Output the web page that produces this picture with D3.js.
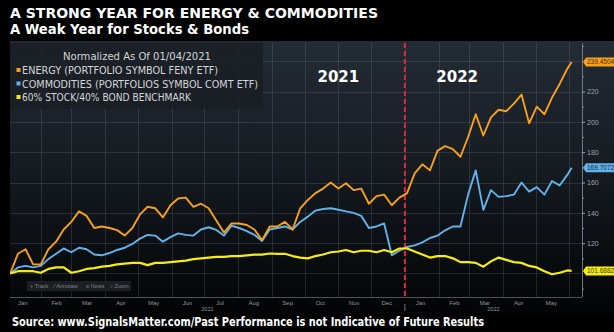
<!DOCTYPE html>
<html>
<head>
<meta charset="utf-8">
<script src="https://cdn.jsdelivr.net/npm/d3@7"></script>
<style>
  html, body { margin: 0; padding: 0; background: #000; }
  svg { display: block; }
</style>
</head>
<body>
<div id="chart"></div>
<script>
// Weekly closes, normalized to 100 on 01/04/2021
const dates = [
  "2021-01-04","2021-01-11","2021-01-18","2021-01-25","2021-02-01","2021-02-08","2021-02-15","2021-02-22",
  "2021-03-01","2021-03-08","2021-03-15","2021-03-22","2021-03-29","2021-04-05","2021-04-12","2021-04-19",
  "2021-04-26","2021-05-03","2021-05-10","2021-05-17","2021-05-24","2021-05-31","2021-06-07","2021-06-14",
  "2021-06-21","2021-06-28","2021-07-05","2021-07-12","2021-07-19","2021-07-26","2021-08-02","2021-08-09",
  "2021-08-16","2021-08-23","2021-08-30","2021-09-06","2021-09-13","2021-09-20","2021-09-27","2021-10-04",
  "2021-10-11","2021-10-18","2021-10-25","2021-11-01","2021-11-08","2021-11-15","2021-11-22","2021-11-29",
  "2021-12-06","2021-12-13","2021-12-20","2021-12-27","2022-01-03","2022-01-10","2022-01-17","2022-01-24",
  "2022-01-31","2022-02-07","2022-02-14","2022-02-21","2022-02-28","2022-03-07","2022-03-14","2022-03-21",
  "2022-03-28","2022-04-04","2022-04-11","2022-04-18","2022-04-25","2022-05-02","2022-05-09","2022-05-16",
  "2022-05-23","2022-05-30","2022-06-03"
];

const energy = [
  100, 113, 116, 106, 106, 116, 121, 129, 134, 141, 138, 130, 131, 130, 128.6, 125,
  130, 139, 144, 143, 137, 145, 149.5, 150, 144, 146, 143, 135, 127, 133, 133, 132,
  129, 122, 131, 131, 134, 129, 143, 148.5, 153, 156, 160, 156, 159.5, 155,
  156, 146, 151, 152, 145, 150,
  153, 166, 172, 168, 181, 184, 182, 177, 190, 205, 191, 203, 208, 207, 212, 218,
  199, 210, 205, 216, 225, 235, 239.45
];

const commodities = [
  100, 104, 105, 104, 105, 109.5, 113, 116.5, 114, 117, 116, 112.5, 112, 113.5, 115.5, 117,
  119.5, 123, 125.4, 125, 121, 124, 126.5, 125.5, 125, 129, 130.5, 128.7, 125, 131.5, 130, 128,
  125.5, 121.5, 129, 130, 131, 129, 134, 137.5, 141.5, 142.5, 143, 142, 141, 140,
  138, 130, 131, 133, 112, 115,
  117.5, 118.5, 120.5, 123.4, 125, 128.5, 131, 131, 152, 168, 142, 155, 150.5, 151, 152, 160,
  154, 157, 152, 161, 158, 165, 169.7
];

const benchmark = [
  100, 101.5, 101.5, 101.5, 100.5, 103, 104, 104, 100.5, 101.5, 103, 103.5, 104.5, 105, 106, 106.5,
  107, 107, 105.5, 107, 107, 107.5, 108, 108.5, 109.5, 110, 110.5, 111, 111, 111.5, 111.5, 112,
  112.5, 112.5, 113.2, 113, 113, 111.5, 110.5, 110, 111.5, 112.5, 114, 114.5, 115.5, 114,
  115, 115, 114, 115.5, 114, 116.5,
  116.5, 114.5, 112.5, 110.5, 111.5, 111.5, 110, 107.5, 107.5, 107, 104.5, 108, 110.5, 109, 107.5, 107,
  105, 104, 101.5, 99.5, 100.5, 102, 101.69
];

const seriesNames = [
  "ENERGY (PORTFOLIO SYMBOL FENY ETF)",
  "COMMODITIES (PORTFOLIOS SYMBOL COMT ETF)",
  "60% STOCK/40% BOND BENCHMARK"
];
const seriesColors = ["#f7a01c", "#62b2ec", "#f6ee10"];
const lastLabels = ["239.4504", "169.7072", "101.6882"];
const yTicks = [100, 120, 140, 160, 180, 200, 220, 240];
const yLabelTicks = [120, 140, 160, 180, 200, 220]; // 100 and 240 sit under the value tags
const yMinorTicks = [90, 110, 130, 150, 170, 190, 210, 230, 250];
const yearLabels = ["2021", "2022"];

const W = 614, H = 332;
const plot = { left: 10, right: 582, top: 43, bottom: 297 };

const parse = d3.timeParse("%Y-%m-%d");
const dateObjs = dates.map(parse);

const svg = d3.select("#chart").append("svg")
  .attr("width", W)
  .attr("height", H);

// Background gradient for the chart panel
const defs = svg.append("defs");
const grad = defs.append("linearGradient")
  .attr("id", "panelGrad")
  .attr("x1", 0).attr("y1", 0).attr("x2", 0).attr("y2", 1);
grad.append("stop").attr("offset", "0%").attr("stop-color", "#232b34");
grad.append("stop").attr("offset", "45%").attr("stop-color", "#161c22");
grad.append("stop").attr("offset", "100%").attr("stop-color", "#030405");

defs.append("clipPath").attr("id", "plotClip")
  .append("rect")
  .attr("x", plot.left).attr("y", plot.top)
  .attr("width", plot.right - plot.left)
  .attr("height", plot.bottom - plot.top);

svg.append("rect").attr("width", W).attr("height", H).attr("fill", "#000");
svg.append("rect")
  .attr("x", plot.left).attr("y", 41)
  .attr("width", W - plot.left).attr("height", 272)
  .attr("fill", "url(#panelGrad)");

// Titles
svg.append("text")
  .attr("x", 10).attr("y", 17.5)
  .attr("fill", "#fff")
  .attr("font-family", "DejaVu Sans, sans-serif")
  .attr("font-weight", "bold")
  .attr("font-size", "14px")
  .attr("textLength", 368).attr("lengthAdjust", "spacingAndGlyphs")
  .text("A STRONG YEAR FOR ENERGY & COMMODITIES");

svg.append("text")
  .attr("x", 10).attr("y", 33.5)
  .attr("fill", "#fff")
  .attr("font-family", "DejaVu Sans, sans-serif")
  .attr("font-weight", "bold")
  .attr("font-size", "13.5px")
  .attr("textLength", 239).attr("lengthAdjust", "spacingAndGlyphs")
  .text("A Weak Year for Stocks & Bonds");

// Scales
const x = d3.scaleTime()
  .domain([new Date(2021, 0, 3, 18), new Date(2022, 5, 12, 12)])
  .range([plot.left, plot.right]);

const y = d3.scaleLinear()
  .domain([84.5, 252])
  .range([plot.bottom, plot.top]);

// Grid lines
const monthStarts = d3.timeMonth.range(new Date(2021, 1, 1), new Date(2022, 5, 2));
svg.append("g")
  .selectAll("line")
  .data(monthStarts)
  .join("line")
  .attr("x1", d => Math.round(x(d)) + 0.5)
  .attr("x2", d => Math.round(x(d)) + 0.5)
  .attr("y1", plot.top)
  .attr("y2", plot.bottom)
  .attr("stroke", "#8a98a8")
  .attr("stroke-opacity", 0.2);

svg.append("g")
  .selectAll("line")
  .data(yTicks)
  .join("line")
  .attr("x1", plot.left)
  .attr("x2", plot.right)
  .attr("y1", d => Math.round(y(d)) + 0.5)
  .attr("y2", d => Math.round(y(d)) + 0.5)
  .attr("stroke", "#8a98a8")
  .attr("stroke-opacity", 0.2);

// Right axis
const yAxis = svg.append("g")
  .attr("transform", `translate(${plot.right},0)`)
  .call(d3.axisRight(y).tickValues(yLabelTicks).tickSize(3).tickPadding(2).tickFormat(d3.format("d")));
yAxis.select(".domain").attr("stroke", "#6d7884").attr("d", `M0.5,${plot.top}V${plot.bottom}`);
yAxis.selectAll(".tick line").attr("stroke", "#9aa3ad");
yAxis.selectAll(".tick text")
  .attr("fill", "#9aa3ad")
  .attr("font-family", "Liberation Sans, Arial, sans-serif")
  .attr("font-size", "7px");

svg.append("g")
  .attr("transform", `translate(${plot.right},0)`)
  .call(d3.axisRight(y).tickValues(yMinorTicks).tickSize(2).tickFormat(""))
  .call(g => g.select(".domain").remove())
  .selectAll(".tick line").attr("stroke", "#7d8893");

// Bottom axis: month names centered in each month
const monthMids = d3.timeMonth.range(new Date(2021, 0, 1), new Date(2022, 5, 1))
  .map(d => new Date(d.getFullYear(), d.getMonth(), 15));
const xAxis = svg.append("g")
  .attr("transform", `translate(0,${plot.bottom})`)
  .call(d3.axisBottom(x).tickValues(monthMids).tickSize(0).tickPadding(4).tickFormat(d3.timeFormat("%b")));
xAxis.select(".domain").attr("stroke", "#4a525b").attr("d", `M${plot.left},0.5H${plot.right}`);
xAxis.selectAll(".tick text")
  .attr("fill", "#8e959c")
  .attr("font-family", "Liberation Sans, Arial, sans-serif")
  .attr("font-size", "6px");

// Year labels under the months
const yearMid = [
  x(new Date((x.domain()[0].getTime() + new Date(2022, 0, 1).getTime()) / 2)),
  (x(new Date(2022, 0, 1)) + plot.right) / 2
];
svg.append("g")
  .selectAll("text")
  .data(yearLabels)
  .join("text")
  .attr("x", (d, i) => yearMid[i])
  .attr("y", 311)
  .attr("text-anchor", "middle")
  .attr("fill", "#8e959c")
  .attr("font-family", "Liberation Sans, Arial, sans-serif")
  .attr("font-size", "5.5px")
  .text(d => d);
svg.append("line")
  .attr("x1", x(new Date(2022, 0, 1))).attr("x2", x(new Date(2022, 0, 1)))
  .attr("y1", 304).attr("y2", 311)
  .attr("stroke", "#6f767d");

// Big year labels inside the plot
svg.append("g")
  .selectAll("text")
  .data([
    { t: "2021", d: new Date(2021, 10, 1) },
    { t: "2022", d: new Date(2022, 1, 18) }
  ])
  .join("text")
  .attr("x", d => x(d.d))
  .attr("y", 82)
  .attr("text-anchor", "middle")
  .attr("fill", "#fff")
  .attr("font-family", "DejaVu Sans, sans-serif")
  .attr("font-weight", "bold")
  .attr("font-size", "15px")
  .text(d => d.t);

// Year divider
svg.append("line")
  .attr("x1", x(new Date(2022, 0, 1))).attr("x2", x(new Date(2022, 0, 1)))
  .attr("y1", plot.top).attr("y2", plot.bottom)
  .attr("stroke", "#e0253c")
  .attr("stroke-width", 2)
  .attr("stroke-dasharray", "5,3");

// Series lines
const allSeries = [energy, commodities, benchmark];
const line = d3.line()
  .x(d => x(d.date))
  .y(d => y(d.v));

const linesG = svg.append("g").attr("clip-path", "url(#plotClip)");
[1, 0, 2].forEach(i => {
  const pts = allSeries[i].map((v, j) => ({ date: dateObjs[j], v: v }));
  linesG.append("path")
    .datum(pts)
    .attr("fill", "none")
    .attr("stroke", seriesColors[i])
    .attr("stroke-width", i === 2 ? 2.2 : 1.9)
    .attr("stroke-linejoin", "round")
    .attr("d", line);
});

// Last value tags on the right axis
const tagTextColors = ["#4a2a00", "#0d2a40", "#3a3a00"];
allSeries.forEach((s, i) => {
  const ty = y(s[s.length - 1]);
  const g = svg.append("g");
  g.append("path")
    .attr("d", `M${plot.right + 1},${ty} L${plot.right + 4},${ty - 4.5} L${W},${ty - 4.5} L${W},${ty + 4.5} L${plot.right + 4},${ty + 4.5} Z`)
    .attr("fill", seriesColors[i]);
  g.append("text")
    .attr("x", plot.right + 5)
    .attr("y", ty + 2.4)
    .attr("fill", tagTextColors[i])
    .attr("font-family", "Liberation Sans, Arial, sans-serif")
    .attr("font-size", "6.5px")
    .text(lastLabels[i]);
});

// Legend box
const legend = svg.append("g");
legend.append("rect")
  .attr("x", 10).attr("y", 43)
  .attr("width", 253).attr("height", 66)
  .attr("fill", "#1a1f25")
  .attr("fill-opacity", 0.85);
legend.append("text")
  .attr("x", 137).attr("y", 60)
  .attr("text-anchor", "middle")
  .attr("fill", "#d4d6d8")
  .attr("font-family", "Liberation Sans Narrow, DejaVu Sans Condensed, Arial, sans-serif")
  .attr("font-size", "11px")
  .attr("textLength", 148).attr("lengthAdjust", "spacingAndGlyphs")
  .text("Normalized As Of 01/04/2021");

const legendWidths = [196, 236, 169];
seriesNames.forEach((name, i) => {
  const ly = 74 + i * 13.5;
  legend.append("rect")
    .attr("x", 16.5).attr("y", ly - 6)
    .attr("width", 4).attr("height", 4)
    .attr("fill", seriesColors[i]);
  legend.append("text")
    .attr("x", 22).attr("y", ly)
    .attr("fill", "#d4d6d8")
    .attr("font-family", "Liberation Sans Narrow, DejaVu Sans Condensed, Arial, sans-serif")
    .attr("font-size", "11px")
    .attr("textLength", legendWidths[i]).attr("lengthAdjust", "spacingAndGlyphs")
    .text(name);
});

// Toolbar strip
const tools = [
  { t: "+ Track", x: 30 },
  { t: "⁄ Annotate", x: 54 },
  { t: "≡ News", x: 86 },
  { t: "⌕ Zoom", x: 110 }
];
svg.append("rect")
  .attr("x", 27).attr("y", 281)
  .attr("width", 104).attr("height", 10)
  .attr("fill", "#1b1e22");
svg.append("g")
  .selectAll("text")
  .data(tools)
  .join("text")
  .attr("x", d => d.x)
  .attr("y", 288)
  .attr("fill", "#7d838a")
  .attr("font-family", "Liberation Sans, Arial, sans-serif")
  .attr("font-size", "5.5px")
  .text(d => d.t);

// Source line
svg.append("text")
  .attr("x", 12).attr("y", 326)
  .attr("fill", "#fff")
  .attr("font-family", "DejaVu Sans, sans-serif")
  .attr("font-weight", "bold")
  .attr("font-size", "11.5px")
  .attr("textLength", 472).attr("lengthAdjust", "spacingAndGlyphs")
  .text("Source: www.SignalsMatter.com/Past Performance is not Indicative of Future Results");
</script>
</body>
</html>
